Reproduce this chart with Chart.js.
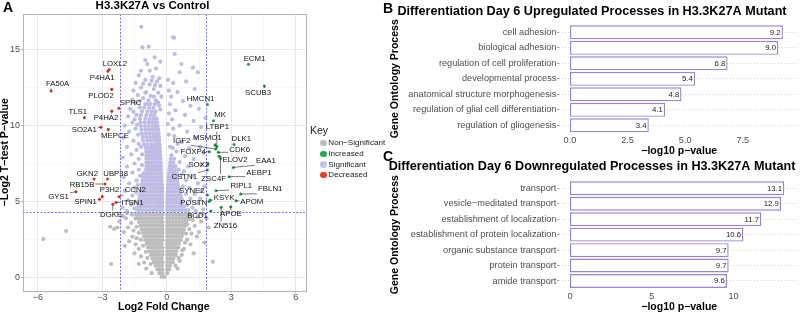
<!DOCTYPE html>
<html><head><meta charset="utf-8">
<script src="https://cdn.jsdelivr.net/npm/chart.js@4"></script>
<style>
html,body{margin:0;padding:0;background:#fff;overflow:hidden;width:800px;height:313px;}
body{position:relative;font-family:"Liberation Sans",Arial,sans-serif;}
canvas{position:absolute;}
#cv{left:0;top:0;}
#cb{left:385px;top:0;}
#cc{left:385px;top:157px;}
.tag{position:absolute;font-weight:bold;font-size:14px;line-height:14px;color:#000;}
#legend{position:absolute;left:0;top:0;}
#legend div{position:absolute;white-space:nowrap;color:#1a1a1a;}
</style></head><body>
<canvas id="cv" width="325" height="313"></canvas>
<canvas id="cb" width="423" height="157"></canvas>
<canvas id="cc" width="423" height="156"></canvas>
<div class="tag" style="left:3px;top:0px">A</div>
<div class="tag" style="left:383px;top:1px">B</div>
<div class="tag" style="left:383px;top:149px">C</div>
<div id="legend"></div>
<script>
// ---------------- DATA ----------------
// Volcano: labelled genes
const decreasedGenes = ['FA50A','LOXL2','P4HA1','PLOD2','SPRC','P4HA2','TLS1','SO2A1','MEPCE','GKN2','UBP38','RB15B','GYS1','P3H2','SPIN1','CCN2','ITSN1','DGKE'];
const decreasedFC = [-5.38,-2.68,-2.74,-2.56,-2.23,-2.56,-3.83,-3.06,-2.72,-3.38,-2.76,-2.87,-4.22,-3.0,-3.13,-2.22,-2.36,-2.51];
const decreasedP  = [12.27,13.69,13.58,12.38,11.13,10.95,10.51,9.88,9.75,6.48,6.48,6.16,5.65,5.32,5.15,5.32,4.95,4.82];
const increasedGenes = ['ECM1','SCUB3','HMCN1','MK','LTBP1','DLK1','IGF2','MSMO1','CDK6','FOXP4','ELOV2','ZSC4F','EAA1','SOX2','CSTN1','AEBP1','RIPL1','FBLN1','SYNE2','KSYK','POSTN','APOM','BCD1','APOE','ZN516'];
const increasedFC = [3.80,4.54,1.89,2.17,2.33,3.13,2.29,2.25,2.40,1.98,2.43,2.50,3.10,1.91,1.89,2.90,2.29,3.44,1.89,2.01,1.97,3.22,2.06,2.98,2.53];
const increasedP  = [14.02,12.60,11.39,10.32,8.60,8.76,8.45,8.70,8.24,8.28,7.98,7.85,7.25,7.45,7.08,6.64,5.72,5.50,5.43,5.10,5.00,5.06,4.38,4.67,4.63];

// Volcano: dense cloud of non-significant genes, read row by row [y, [x...]]
const nonSigRows = [
 [0.06,[-0.24,-0.11]],
 [0.30,[-0.34,-0.21,0.02]],
 [0.54,[-0.44,-0.3,-0.2,0.02,0.12]],
 [0.78,[-0.52,-0.37,-0.22,0.02,0.15]],
 [1.02,[-0.6,-0.46,-0.32,-0.2,0.02,0.15,0.28]],
 [1.26,[-0.67,-0.53,-0.39,-0.24,0.02,0.16,0.31]],
 [1.50,[-0.74,-0.6,-0.46,-0.32,-0.2,0.02,0.16,0.3,0.42]],
 [1.74,[-0.81,-0.66,-0.51,-0.36,-0.21,0.02,0.15,0.3,0.45]],
 [1.98,[-0.87,-0.73,-0.59,-0.45,-0.31,-0.2,0.02,0.15,0.29,0.42,0.54]],
 [2.22,[-0.93,-0.79,-0.65,-0.51,-0.37,-0.23,0.02,0.14,0.28,0.42,0.56]],
 [2.46,[-0.99,-0.85,-0.71,-0.57,-0.43,-0.29,-0.2,0.02,0.16,0.3,0.44,0.58,0.65]],
 [2.70,[-1.05,-0.91,-0.77,-0.63,-0.49,-0.35,-0.21,0.02,0.14,0.28,0.42,0.56,0.7]],
 [2.94,[-1.11,-0.97,-0.83,-0.69,-0.55,-0.41,-0.27,-0.2,0.02,0.15,0.29,0.43,0.57,0.71,0.76]],
 [3.18,[-1.17,-1.03,-0.89,-0.75,-0.61,-0.47,-0.33,-0.2,0.02,0.14,0.28,0.42,0.56,0.7,0.8]],
 [3.42,[-1.23,-1.09,-0.95,-0.81,-0.67,-0.53,-0.39,-0.25,-0.2,0.02,0.16,0.3,0.44,0.58,0.72,0.85]],
 [3.66,[-1.29,-1.15,-1.01,-0.87,-0.73,-0.59,-0.45,-0.31,-0.2,0.02,0.14,0.28,0.42,0.56,0.7,0.82,0.9]],
 [3.90,[-1.35,-1.21,-1.07,-0.93,-0.79,-0.65,-0.51,-0.37,-0.23,0.02,0.15,0.29,0.43,0.57,0.71,0.84,0.94]],
 [4.14,[-1.42,-1.28,-1.14,-1.0,-0.86,-0.72,-0.58,-0.44,-0.3,-0.2,0.02,0.14,0.28,0.42,0.56,0.7,0.84,0.98]]
];
const nonSigScatter = [[-1.62,4.15],[-1.9,3.9],[-2.05,4.05],[-1.65,3.6],[-1.8,3.3],[-2.0,3.0],[-1.55,3.1],[-1.6,2.7],[-1.75,2.4],[-1.45,2.2],[-1.95,2.1],[-1.3,1.9],[-1.5,1.6],[-1.2,1.4],[-1.05,1.0],[-1.3,0.9],[-2.59,0.9],[-2.3,3.3],[-2.45,3.2],[-2.63,3.35],[-4.68,3.07],[-5.74,2.54],[-1.85,4.25],[-2.2,3.7],[-1.4,2.6],[-0.95,0.6],[-0.7,0.3],[-1.45,3.9],[-1.4,3.35],[-1.3,2.95],[-1.2,2.5],[-1.1,2.1],[-0.98,1.7],[-0.9,1.3],[-0.75,0.9],
 [1.1,4.15],[1.2,3.8],[1.45,4.0],[1.6,3.7],[1.85,3.9],[1.3,3.4],[1.05,3.2],[1.15,2.9],[1.4,2.7],[0.95,2.5],[1.1,2.2],[0.8,1.9],[0.7,1.5],[0.6,1.1],[2.14,1.05],[1.75,2.3],[1.25,1.6],[0.5,0.6],[1.95,3.3],[1.5,3.0],[1.02,3.85],[0.95,3.5],[0.9,2.9],[0.85,2.3],[0.72,1.8],[0.55,1.3],[0.4,0.8],[1.65,4.2]];

// Volcano: dense cloud of significant genes, read row by row [y, [x...]]
const sigRows = [
 [4.45,[-1.36,-1.22,-1.07,-0.92,-0.77,-0.62,-0.47,-0.33,-0.21,0.02,0.14,0.28,0.42,0.56,0.7,0.85]],
 [4.69,[-1.33,-1.2,-1.05,-0.9,-0.75,-0.6,-0.45,-0.32,-0.21,0.02,0.14,0.28,0.42,0.56,0.7,0.8]],
 [4.93,[-1.31,-1.17,-1.02,-0.87,-0.72,-0.58,-0.44,-0.32,-0.21,0.02,0.15,0.29,0.43,0.57,0.7]],
 [5.17,[-1.28,-1.14,-0.99,-0.85,-0.71,-0.57,-0.43,-0.32,-0.21,0.03,0.16,0.3,0.44,0.58,0.7]],
 [5.41,[-1.25,-1.11,-0.97,-0.83,-0.69,-0.55,-0.42,-0.31,-0.21,0.03,0.17,0.31,0.45,0.58,0.65]],
 [5.65,[-1.21,-1.08,-0.94,-0.8,-0.66,-0.53,-0.4,-0.29,-0.21,0.04,0.18,0.32,0.46,0.6]],
 [5.89,[-1.18,-1.05,-0.91,-0.77,-0.64,-0.51,-0.38,-0.28,-0.21,0.05,0.19,0.33,0.46,0.56]],
 [6.13,[-1.16,-1.03,-0.89,-0.76,-0.63,-0.5,-0.37,-0.27,-0.22,0.06,0.2,0.34,0.46,0.52]],
 [6.37,[-1.13,-1.01,-0.88,-0.75,-0.62,-0.49,-0.36,-0.24,0.07,0.21,0.35,0.49]],
 [6.61,[-1.11,-0.99,-0.86,-0.73,-0.6,-0.48,-0.36,-0.25,0.08,0.22,0.35,0.47]],
 [6.85,[-1.09,-0.97,-0.84,-0.71,-0.59,-0.47,-0.35,-0.25,0.1,0.23,0.36,0.45]],
 [7.09,[-0.96,-0.83,-0.7,-0.58,-0.46,-0.35,-0.26,0.12,0.25,0.38]],
 [7.33,[-0.95,-0.82,-0.69,-0.57,-0.45,-0.35,-0.27,0.14,0.27,0.4]],
 [7.57,[-0.95,-0.82,-0.69,-0.57,-0.46,-0.36,-0.28,0.16,0.3]],
 [7.81,[-0.95,-0.82,-0.7,-0.58,-0.47,-0.37,-0.29,0.18,0.34]],
 [8.05,[-0.95,-0.82,-0.7,-0.58,-0.47,-0.38,-0.3,0.22]],
 [8.29,[-0.96,-0.83,-0.71,-0.59,-0.48,-0.39,-0.31]],
 [8.53,[-0.98,-0.85,-0.72,-0.6,-0.49,-0.4,-0.32,0.28]],
 [8.77,[-1.05,-0.88,-0.7,-0.55,-0.42,-0.33]],
 [9.01,[-1.1,-0.9,-0.74,-0.58,-0.45,-0.35]],
 [9.25,[-1.12,-0.95,-0.78,-0.62,-0.48,-0.36]],
 [9.49,[-1.15,-0.97,-0.8,-0.64,-0.5,-0.38]],
 [9.73,[-1.18,-0.99,-0.82,-0.66,-0.52,-0.4]],
 [9.97,[-1.2,-1.01,-0.84,-0.68,-0.54,-0.42]],
 [10.21,[-1.22,-1.03,-0.85,-0.7,-0.56,-0.45]],
 [10.45,[-1.25,-1.0,-0.8,-0.62,-0.47]],
 [10.69,[-1.2,-0.95,-0.75,-0.58]],
 [10.93,[-1.15,-0.9,-0.7,-0.52]],
 [11.17,[-1.05,-0.82,-0.62]],
 [11.41,[-1.0,-0.75,-0.55]]
];
const sigScatter = [[-1.18,16.49],[-1.13,15.14],[-0.84,15.18],[-0.56,14.48],[-0.9,14.04],[-0.79,13.6],[0.29,15.8],[0.37,14.7],[0.68,14.04],[0.6,13.5],[1.22,13.8],[1.45,13.5],
 [-1.3,13.3],[-0.65,13.2],[-1.0,13.0],[-0.45,12.9],[-1.45,12.8],[-0.8,12.7],[-0.3,12.6],[-1.2,12.5],[-0.6,12.4],[-1.55,12.3],[-0.95,12.2],[-0.4,12.15],[-1.35,12.0],[-0.75,11.95],[-0.25,11.9],[-1.1,11.8],[-1.6,11.7],[-0.5,11.65],[-1.45,11.5],[-0.9,11.4],[-1.25,11.2],[-1.7,11.1],[-0.35,11.3],[-1.55,10.9],[-1.4,10.7],[-1.8,10.6],[-1.5,10.4],[-1.6,10.2],[-1.38,10.05],[-1.95,10.0],[-1.45,9.8],[-1.75,9.6],[-1.33,9.4],[-2.0,9.2],[-1.55,9.0],[-1.3,8.8],[-1.85,8.6],[-1.4,8.4],[-1.65,8.1],[-2.05,7.9],[-1.3,7.8],[-1.5,7.5],[-1.85,7.3],[-1.3,7.1],[-1.6,6.9],[-2.0,6.6],[-1.4,6.4],[-1.75,6.2],[-1.5,5.9],[-1.95,5.7],[-1.6,5.4],[-1.8,5.1],[-1.65,4.8],[-2.05,4.6],[-1.85,4.4],[-1.5,4.55],[-1.48,5.0],[-1.42,5.6],[-1.35,6.1],[-1.25,6.7],[-1.15,7.4],[-1.15,8.1],[-1.2,8.6],
 [-0.3,11.05],[-0.4,11.5],[-0.85,11.65],[-1.25,11.6],[-0.6,11.9],[-1.0,12.15],[-0.55,12.65],[-1.1,12.75],[-0.7,12.95],[-0.35,13.1],[-1.2,13.6],[-0.5,13.75],[-1.0,14.3],[-0.3,14.2],[0.05,13.0],[0.1,12.3],[0.15,11.4],[0.1,10.8],[0.05,10.1],[0.1,9.4],
 [0.3,12.8],[0.9,12.9],[0.5,12.2],[1.3,12.4],[0.2,11.9],[0.75,11.6],[1.1,11.3],[0.4,11.0],[1.5,11.1],[0.85,10.7],[0.25,10.4],[1.25,10.3],[0.6,10.0],[1.6,9.9],[0.95,9.6],[0.35,9.3],[1.35,9.2],[0.7,8.9],[1.05,8.5],[0.45,8.3],[1.55,8.6],[0.85,8.0],[1.25,7.8],[0.6,7.6],[1.0,7.3],[1.6,7.4],[0.8,7.0],[1.2,6.7],[0.9,6.4],[1.45,6.2],[1.05,5.9],[1.3,5.5],[1.6,5.7],[1.1,5.2],[1.45,4.9],[1.2,4.6],[1.7,4.5],[1.35,4.4],[1.0,4.45],[1.55,5.2],[1.75,6.0],[1.7,8.2],[1.8,10.5],[0.35,15.77],[0.7,6.8],[0.65,5.3],[0.95,4.8],[0.9,5.5],[0.75,6.0],[0.55,7.1],[0.5,8.8],[0.3,9.8],[0.15,8.6]];

const fcThresholds = [-2.17, 1.84];
const pThreshold = 4.32;
const volcanoXTicks = [-6,-3,0,3,6];
const volcanoXMinor = [-4.5,-1.5,1.5,4.5];
const volcanoYTicks = [0,5,10,15];
const volcanoYMinor = [2.5,7.5,12.5];
const legendKeys = ['Non\u2212Significant','Increased','Significant','Decreased'];

// Panel B
const upProcesses = ['cell adhesion','biological adhesion','regulation of cell proliferation','developmental process','anatomical structure morphogenesis','regulation of glial cell differentiation','regulation of gliogenesis'];
const upValues = [9.24, 9.04, 6.84, 5.43, 4.84, 4.13, 3.42];
const upTicks = [0, 2.5, 5, 7.5];
// Panel C
const downProcesses = ['transport','vesicle\u2212meditated transport','establishment of localization','establishment of protein localization','organic substance transport','protein transport','amide transport'];
const downValues = [13.1, 12.9, 11.7, 10.6, 9.7, 9.7, 9.6];
const downTicks = [0, 5, 10];

// ---------------- STYLE / LAYOUT ----------------
const FONT = "'Liberation Sans', Arial, Helvetica, sans-serif";
Chart.defaults.font.family = FONT;
const COLORS = {'Non\u2212Significant':'#bdbdbd','Increased':'#1f9a43','Significant':'#bcbce4','Decreased':'#e8321e'};
const LEGEND_COLORS = {'Non\u2212Significant':'#bebebe','Increased':'#2ea24c','Significant':'#c4c4ea','Decreased':'#ee3a24'};
const labelOffsets = {
 FA50A:[6.5,-7], LOXL2:[5.7,-6], P4HA1:[-5.7,6.7], PLOD2:[-10.7,6.4], SPRC:[11.8,-5.6], P4HA2:[-5.7,7], TLS1:[-6.6,-6.4], SO2A1:[-16.7,2], MEPCE:[6.7,6.7], GKN2:[-6.7,-5.7], UBP38:[8.2,-5], RB15B:[-23,1], GYS1:[-17.5,5.6], P3H2:[7.2,-6.7], SPIN1:[-13.8,2.4], CCN2:[16.3,-6.7], ITSN1:[16.5,0], DGKE:[-1.7,10.7],
 ECM1:[6,-6], SCUB3:[-6.3,6.7], HMCN1:[-6.8,-6], MK:[6.7,-5.7], LTBP1:[0.6,-19.7], DLK1:[7.3,-6], IGF2:[-34.3,-8.3], MSMO1:[-7.8,-7], CDK6:[21.4,-2.3], FOXP4:[-16,0.6], ELOV2:[16,4], ZSC4F:[-6.8,20.3], EAA1:[32.5,-6.6], SOX2:[-9,0.7], CSTN1:[-23.1,7.3], AEBP1:[29.8,-3.4], RIPL1:[25.3,-5], FBLN1:[29.5,-4.7], SYNE2:[-15.6,-4.3], KSYK:[14.2,-2.7], POSTN:[-15.5,1.6], APOM:[15.8,1.3], BCD1:[-13.5,5], APOE:[0,7.6], ZN516:[4.2,18.7]
};

function rowsToPoints(rows, scatter){
  const pts = [];
  rows.forEach(([y, xs]) => xs.forEach(x => pts.push({x, y})));
  scatter.forEach(([x, y]) => pts.push({x, y}));
  return pts;
}
const fmtMinus = v => v < 0 ? '\u2212' + Math.abs(v) : String(v);

const volcanoPlugin = {
  id: 'volcanoExtras',
  afterDatasetsDraw(chart) {
    const {ctx, chartArea: a, scales: {x, y}} = chart;
    ctx.save();
    // threshold lines
    ctx.strokeStyle = '#6f6ff6'; ctx.lineWidth = 1; ctx.setLineDash([2, 1.6]);
    fcThresholds.forEach(v => { const px = Math.round(x.getPixelForValue(v)) + 0.5; ctx.beginPath(); ctx.moveTo(px, a.top); ctx.lineTo(px, a.bottom); ctx.stroke(); });
    const py = Math.round(y.getPixelForValue(pThreshold)) + 0.5;
    ctx.beginPath(); ctx.moveTo(a.left, py); ctx.lineTo(a.right, py); ctx.stroke();
    ctx.setLineDash([]);
    // labels
    ctx.font = '7.8px ' + FONT; ctx.textAlign = 'center'; ctx.textBaseline = 'middle';
    const drawSet = (genes, fc, p) => genes.forEach((g, i) => {
      const px = x.getPixelForValue(fc[i]), ppy = y.getPixelForValue(p[i]);
      const [dx, dy] = labelOffsets[g];
      const cx = px + dx, cy = ppy + dy;
      const w = ctx.measureText(g).width, h = 7;
      const l = cx - w/2 - 1, r = cx + w/2 + 1, t = cy - h/2 - 1, b = cy + h/2 + 1;
      const ex = Math.min(Math.max(px, l), r), ey = Math.min(Math.max(ppy, t), b);
      const len = Math.hypot(ex - px, ey - ppy);
      if (len > 1.5) { ctx.strokeStyle = '#222'; ctx.lineWidth = 0.6; ctx.beginPath(); ctx.moveTo(px, ppy); ctx.lineTo(ex, ey); ctx.stroke(); }
      ctx.fillStyle = '#111'; ctx.fillText(g, cx, cy);
    });
    drawSet(decreasedGenes, decreasedFC, decreasedP);
    drawSet(increasedGenes, increasedFC, increasedP);
    // panel border
    ctx.strokeStyle = '#b3b3b3'; ctx.lineWidth = 1;
    ctx.strokeRect(Math.round(a.left) + 0.5, Math.round(a.top) + 0.5, Math.round(a.right - a.left), Math.round(a.bottom - a.top));
    ctx.restore();
  }
};

const isIn = (arr, v) => arr.some(a => Math.abs(a - v) < 1e-9);

new Chart(document.getElementById('cv'), {
  type: 'scatter',
  data: { datasets: [
    {label:'Decreased', data: decreasedGenes.map((g,i)=>({x:decreasedFC[i], y:decreasedP[i]})), backgroundColor: COLORS['Decreased'], pointRadius:1.5, borderWidth:0, order:0},
    {label:'Increased', data: increasedGenes.map((g,i)=>({x:increasedFC[i], y:increasedP[i]})), backgroundColor: COLORS['Increased'], pointRadius:1.5, borderWidth:0, order:0},
    {label:'Significant', data: rowsToPoints(sigRows, sigScatter), backgroundColor: COLORS['Significant'], pointRadius:2.1, borderWidth:0, order:1},
    {label:'Non\u2212Significant', data: rowsToPoints(nonSigRows, nonSigScatter), backgroundColor: COLORS['Non\u2212Significant'], pointRadius:2.1, borderWidth:0, order:2}
  ]},
  options: {
    responsive:false, animation:false, devicePixelRatio:1, events:[],
    layout:{padding:{left:0, right:20, top:0, bottom:0}},
    plugins:{ legend:{display:false}, tooltip:{enabled:false},
      title:{display:true, text:'H3.3K27A vs Control', color:'#000', font:{size:11.5, weight:'bold', lineHeight:1}, padding:{top:0, bottom:2.5}} },
    scales:{
      x:{ type:'linear', min:-6.71, max:6.43,
        afterBuildTicks: s => { s.ticks = volcanoXTicks.concat(volcanoXMinor).sort((a,b)=>a-b).map(v=>({value:v})); },
        afterFit: s => { s.height = 22.3; },
        ticks:{ callback: v => isIn(volcanoXTicks, v) ? fmtMinus(v) : '', color:'#4d4d4d', font:{size:9, lineHeight:1}, padding:0, maxRotation:0, autoSkip:false },
        grid:{ color: c => isIn(volcanoXTicks, c.tick.value) ? '#e4e4e4' : '#f2f2f2', lineWidth: c => isIn(volcanoXTicks, c.tick.value) ? 0.9 : 0.6, tickLength:2, tickColor: c => isIn(volcanoXTicks, c.tick.value) ? '#b3b3b3' : 'rgba(0,0,0,0)' },
        border:{display:false},
        title:{display:true, text:'Log2 Fold Change', color:'#000', font:{size:10.5, weight:'bold', lineHeight:1.2}, padding:{top:0, bottom:0}} },
      y:{ type:'linear', min:-0.854, max:17.33,
        afterBuildTicks: s => { s.ticks = volcanoYTicks.concat(volcanoYMinor).sort((a,b)=>a-b).map(v=>({value:v})); },
        afterFit: s => { s.width = 22.5; },
        ticks:{ callback: v => isIn(volcanoYTicks, v) ? fmtMinus(v) : '', color:'#4d4d4d', font:{size:9}, padding:0.5, autoSkip:false },
        grid:{ color: c => isIn(volcanoYTicks, c.tick.value) ? '#e4e4e4' : '#f2f2f2', lineWidth: c => isIn(volcanoYTicks, c.tick.value) ? 0.9 : 0.6, tickLength:2, tickColor: c => isIn(volcanoYTicks, c.tick.value) ? '#b3b3b3' : 'rgba(0,0,0,0)' },
        border:{display:false},
        title:{display:true, text:'\u2212Log2 T\u2212test P\u2212value', color:'#000', font:{size:10.5, weight:'bold', lineHeight:1}, padding:{top:0, bottom:0}} }
    }
  },
  plugins:[volcanoPlugin]
});

// Legend (HTML, built from the series names)
(function(){
  const lg = document.getElementById('legend');
  const key = document.createElement('div');
  key.textContent = 'Key'; key.style.cssText = 'left:310px;top:124px;font-size:10.5px;line-height:12px;';
  lg.appendChild(key);
  legendKeys.forEach((k, i) => {
    const cy = 143.3 + i * 10.6;
    const dot = document.createElement('div');
    dot.style.cssText = `left:320.3px;top:${cy-3.2}px;width:6.4px;height:6.4px;border-radius:50%;background:${LEGEND_COLORS[k]};`;
    const t = document.createElement('div');
    t.textContent = k; t.style.cssText = `left:328.3px;top:${cy-5}px;font-size:8.1px;line-height:10px;`;
    lg.appendChild(dot); lg.appendChild(t);
  });
})();

// Bar charts
const valueLabelPlugin = {
  id: 'valueLabels',
  afterDatasetsDraw(chart) {
    const {ctx} = chart;
    const meta = chart.getDatasetMeta(0);
    const vals = chart.data.datasets[0].data;
    ctx.save();
    ctx.font = '7.8px ' + FONT; ctx.fillStyle = '#222'; ctx.textAlign = 'right'; ctx.textBaseline = 'middle';
    meta.data.forEach((bar, i) => ctx.fillText(vals[i].toFixed(1), bar.x - 2.2, bar.y + 0.3));
    ctx.restore();
  }
};

function makeBar(id, labels, values, ticks, fmt, xmin, xmax, xScaleH, titleText, titlePad, tickPad) {
  new Chart(document.getElementById(id), {
    type:'bar',
    data:{ labels, datasets:[{ data: values, backgroundColor:'#ffffff', borderColor:'#9c83d2', borderWidth:1.4, borderSkipped:false, categoryPercentage:0.9, barPercentage:1 }] },
    options:{
      indexAxis:'y', responsive:false, animation:false, devicePixelRatio:1, events:[],
      layout:{padding:{left:0, right:9, top:0, bottom:0}},
      plugins:{ legend:{display:false}, tooltip:{enabled:false},
        title:{display:true, text:titleText, color:'#000', font:{size:12.65, weight:'bold', lineHeight:1.2}, padding:titlePad} },
      scales:{
        x:{ type:'linear', min:xmin, max:xmax,
          afterBuildTicks: s => { s.ticks = ticks.map(v=>({value:v})); },
          afterFit: s => { s.height = xScaleH; },
          ticks:{ callback: fmt, color:'#4d4d4d', font:{size:9.2, lineHeight:1}, padding:tickPad, maxRotation:0, autoSkip:false },
          grid:{ display:false, drawTicks:false },
          border:{display:false},
          title:{display:true, text:'\u2212log10 p\u2212value', color:'#000', font:{size:10.5, weight:'bold', lineHeight:1.2}, padding:{top:0, bottom:0}} },
        y:{ type:'category',
          afterFit: s => { s.width = 174.4; },
          ticks:{ color:'#4d4d4d', font:{size:9.2}, padding:0.5, autoSkip:false },
          grid:{ offset:false, color:'#c9c9c9', lineWidth:0.8, drawTicks:true, tickLength:2.5, tickColor:'#8a8a8a', tickWidth:0.8, tickBorderDash:[] },
          border:{display:false, dash:[1,2]},
          title:{display:true, text:'Gene Ontology Process', color:'#000', font:{size:10.5, weight:'bold', lineHeight:1.2}, padding:{top:3.7, bottom:0}} }
      }
    },
    plugins:[valueLabelPlugin]
  });
}
makeBar('cb', upProcesses, upValues, upTicks, v => v.toFixed(1), -0.46, 9.94, 23.95,
  'Differentiation Day 6 Upregulated Processes in H3.3K27A Mutant', {top:4.41, bottom:4.96}, 2.85);
makeBar('cc', downProcesses, downValues, downTicks, v => String(v), -0.648, 14.0, 24.3,
  'Differentiation Day 6 Downregulated Processes in H3.3K27A Mutant', {top:1.91, bottom:6.51}, 3.4);
</script>
</body></html>
